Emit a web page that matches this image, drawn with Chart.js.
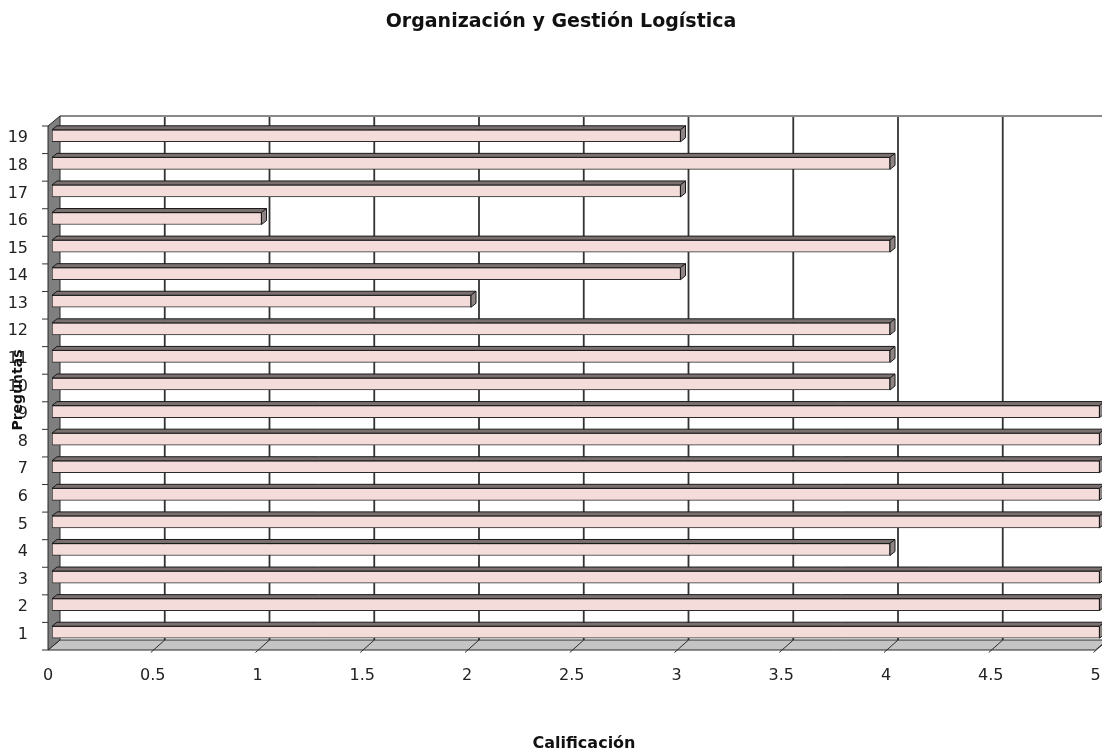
<!DOCTYPE html>
<html>
<head>
<meta charset="utf-8">
<script src="https://cdn.jsdelivr.net/npm/chart.js@4.4.1/dist/chart.umd.min.js"></script>
<style>
  html, body { margin: 0; padding: 0; background: #ffffff; }
  canvas { display: block; }
</style>
</head>
<body>
<canvas id="chart" width="1102" height="752" style="width:1102px;height:752px"></canvas>
<script>
// Texts
const chartTitle = 'Organización y Gestión Logística';
const xAxisTitle = 'Calificación';
const yAxisTitle = 'Preguntas';

// Questions (categories) and their scores
const questions = ['1', '2', '3', '4', '5', '6', '7', '8', '9', '10',
                   '11', '12', '13', '14', '15', '16', '17', '18', '19'];
const scores = [5, 5, 5, 4, 5, 5, 5, 5, 5, 4, 4, 4, 2, 3, 4, 1, 3, 4, 3];

// Value-axis tick labels
const xTickLabels = ['0', '0.5', '1', '1.5', '2', '2.5', '3', '3.5', '4', '4.5', '5'];

// Depth of the box the bars sit in (back wall / front edge offsets)
const BACK_DX = 8, BACK_DY = -6;
const FRONT_DX = -4, FRONT_DY = 4;
// Depth of each bar
const BAR_DX = 5, BAR_DY = -4;

const TICK_FONT = '16px "DejaVu Sans"';

function poly(ctx, pts, fill, stroke, lw) {
  ctx.beginPath();
  ctx.moveTo(pts[0][0], pts[0][1]);
  for (let i = 1; i < pts.length; i++) ctx.lineTo(pts[i][0], pts[i][1]);
  ctx.closePath();
  if (fill) { ctx.fillStyle = fill; ctx.fill(); }
  if (stroke) { ctx.strokeStyle = stroke; ctx.lineWidth = lw || 1; ctx.stroke(); }
}
function seg(ctx, x1, y1, x2, y2) {
  ctx.beginPath(); ctx.moveTo(x1, y1); ctx.lineTo(x2, y2); ctx.stroke();
}

// Draws the walls, floor and grid of the 3D box, then the bar depth faces and texts
const box3d = {
  id: 'box3d',
  beforeDatasetsDraw(chart) {
    const { ctx, chartArea: a, scales: { x, y } } = chart;
    const bTop = a.top + BACK_DY, bBot = a.bottom + BACK_DY;
    const bLeft = a.left + BACK_DX, bRight = a.right + BACK_DX;
    const fTop = a.top + FRONT_DY, fBot = a.bottom + FRONT_DY;
    const fLeft = a.left + FRONT_DX, fRight = a.right + FRONT_DX;
    ctx.save();

    // vertical grid lines on the back wall
    ctx.strokeStyle = '#333333';
    ctx.lineWidth = 1.8;
    x.ticks.forEach(t => {
      if (t.value === 0) return;
      const px = x.getPixelForValue(t.value) + BACK_DX;
      seg(ctx, px, bTop, px, bBot);
    });

    // top edge of the back wall
    ctx.strokeStyle = '#8a8a8a';
    ctx.lineWidth = 2;
    seg(ctx, bLeft, bTop, chart.width, bTop);

    // floor
    poly(ctx, [[bLeft, bBot], [bRight, bBot], [fRight, fBot], [fLeft, fBot]], '#c4c4c4', '#2a2a2a', 1);
    ctx.strokeStyle = '#2a2a2a';
    ctx.lineWidth = 1;
    x.ticks.forEach(t => {
      if (t.value === 0) return;
      const px = x.getPixelForValue(t.value);
      seg(ctx, px + BACK_DX, bBot, px + FRONT_DX - 2, fBot + 2.5);
    });

    // left wall
    poly(ctx, [[bLeft, bTop], [bLeft, bBot], [fLeft, fBot], [fLeft, fTop]], '#7f7f7f', '#262626', 1);

    // category boundary ticks
    const band = Math.abs(y.getPixelForValue(1) - y.getPixelForValue(0));
    ctx.strokeStyle = '#333333';
    ctx.lineWidth = 1;
    const bounds = [];
    for (let i = 0; i < questions.length; i++) bounds.push(y.getPixelForValue(i) + band / 2);
    bounds.push(y.getPixelForValue(questions.length - 1) - band / 2);
    bounds.forEach(b => seg(ctx, fLeft - 6, b + FRONT_DY, fLeft, b + FRONT_DY));

    ctx.restore();
  },
  afterDatasetsDraw(chart) {
    const { ctx } = chart;
    const meta = chart.getDatasetMeta(0);
    ctx.save();
    meta.data.forEach(bar => {
      const p = bar.getProps(['x', 'y', 'base', 'height'], true);
      const top = p.y - p.height / 2, bot = p.y + p.height / 2;
      // upper face
      poly(ctx, [[p.base, top], [p.x, top], [p.x + BAR_DX, top + BAR_DY], [p.base + BAR_DX, top + BAR_DY]],
           '#7a7070', '#1a1a1a', 1);
      // end face
      poly(ctx, [[p.x, top], [p.x + BAR_DX, top + BAR_DY], [p.x + BAR_DX, bot + BAR_DY], [p.x, bot]],
           '#8f8484', '#1a1a1a', 1);
    });
    ctx.restore();
  },
  afterDraw(chart) {
    const { ctx, chartArea: a, scales: { y } } = chart;
    ctx.save();

    // category labels, right-aligned left of the wall
    ctx.fillStyle = '#222222';
    ctx.font = TICK_FONT;
    ctx.textAlign = 'right';
    ctx.textBaseline = 'middle';
    questions.forEach((q, i) => {
      ctx.fillText(q, a.left - 24, y.getPixelForValue(i) + 2.5);
    });

    ctx.fillStyle = '#111111';
    ctx.textAlign = 'center';
    ctx.textBaseline = 'alphabetic';

    ctx.font = 'bold 19px "DejaVu Sans"';
    ctx.fillText(chartTitle, 561, 27);

    ctx.font = 'bold 16px "DejaVu Sans"';
    ctx.fillText(xAxisTitle, 584, 748);

    ctx.font = 'bold 14px "DejaVu Sans"';
    ctx.translate(22, 390);
    ctx.rotate(-Math.PI / 2);
    ctx.fillText(yAxisTitle, 0, 0);
    ctx.restore();
  }
};

new Chart(document.getElementById('chart'), {
  type: 'bar',
  data: {
    labels: questions,
    datasets: [{
      data: scores,
      backgroundColor: '#f3dcda',
      borderColor: '#2b2b2b',
      borderWidth: 1,
      borderSkipped: false,
      barThickness: 12
    }]
  },
  options: {
    indexAxis: 'y',
    responsive: false,
    animation: false,
    devicePixelRatio: 1,
    layout: { padding: { top: 122, right: 2.5, left: 0, bottom: 0 } },
    plugins: {
      legend: { display: false },
      tooltip: { enabled: false },
      title: { display: false }
    },
    scales: {
      x: {
        type: 'linear',
        min: 0,
        max: 5,
        grid: { display: false },
        border: { display: false },
        ticks: {
          stepSize: 0.5,
          autoSkip: false,
          maxRotation: 0,
          padding: 12,
          labelOffset: -4,
          color: '#222222',
          font: { family: '"DejaVu Sans"', size: 16 },
          callback: (v, i) => xTickLabels[i]
        },
        afterFit(s) { s.height = 106; s.paddingLeft = 0; s.paddingRight = 0; }
      },
      y: {
        type: 'category',
        reverse: true,
        grid: { display: false },
        border: { display: false },
        ticks: { display: false, autoSkip: false },
        afterFit(s) { s.width = 52; s.paddingTop = 0; s.paddingBottom = 0; }
      }
    }
  },
  plugins: [box3d]
});
</script>
</body>
</html>
